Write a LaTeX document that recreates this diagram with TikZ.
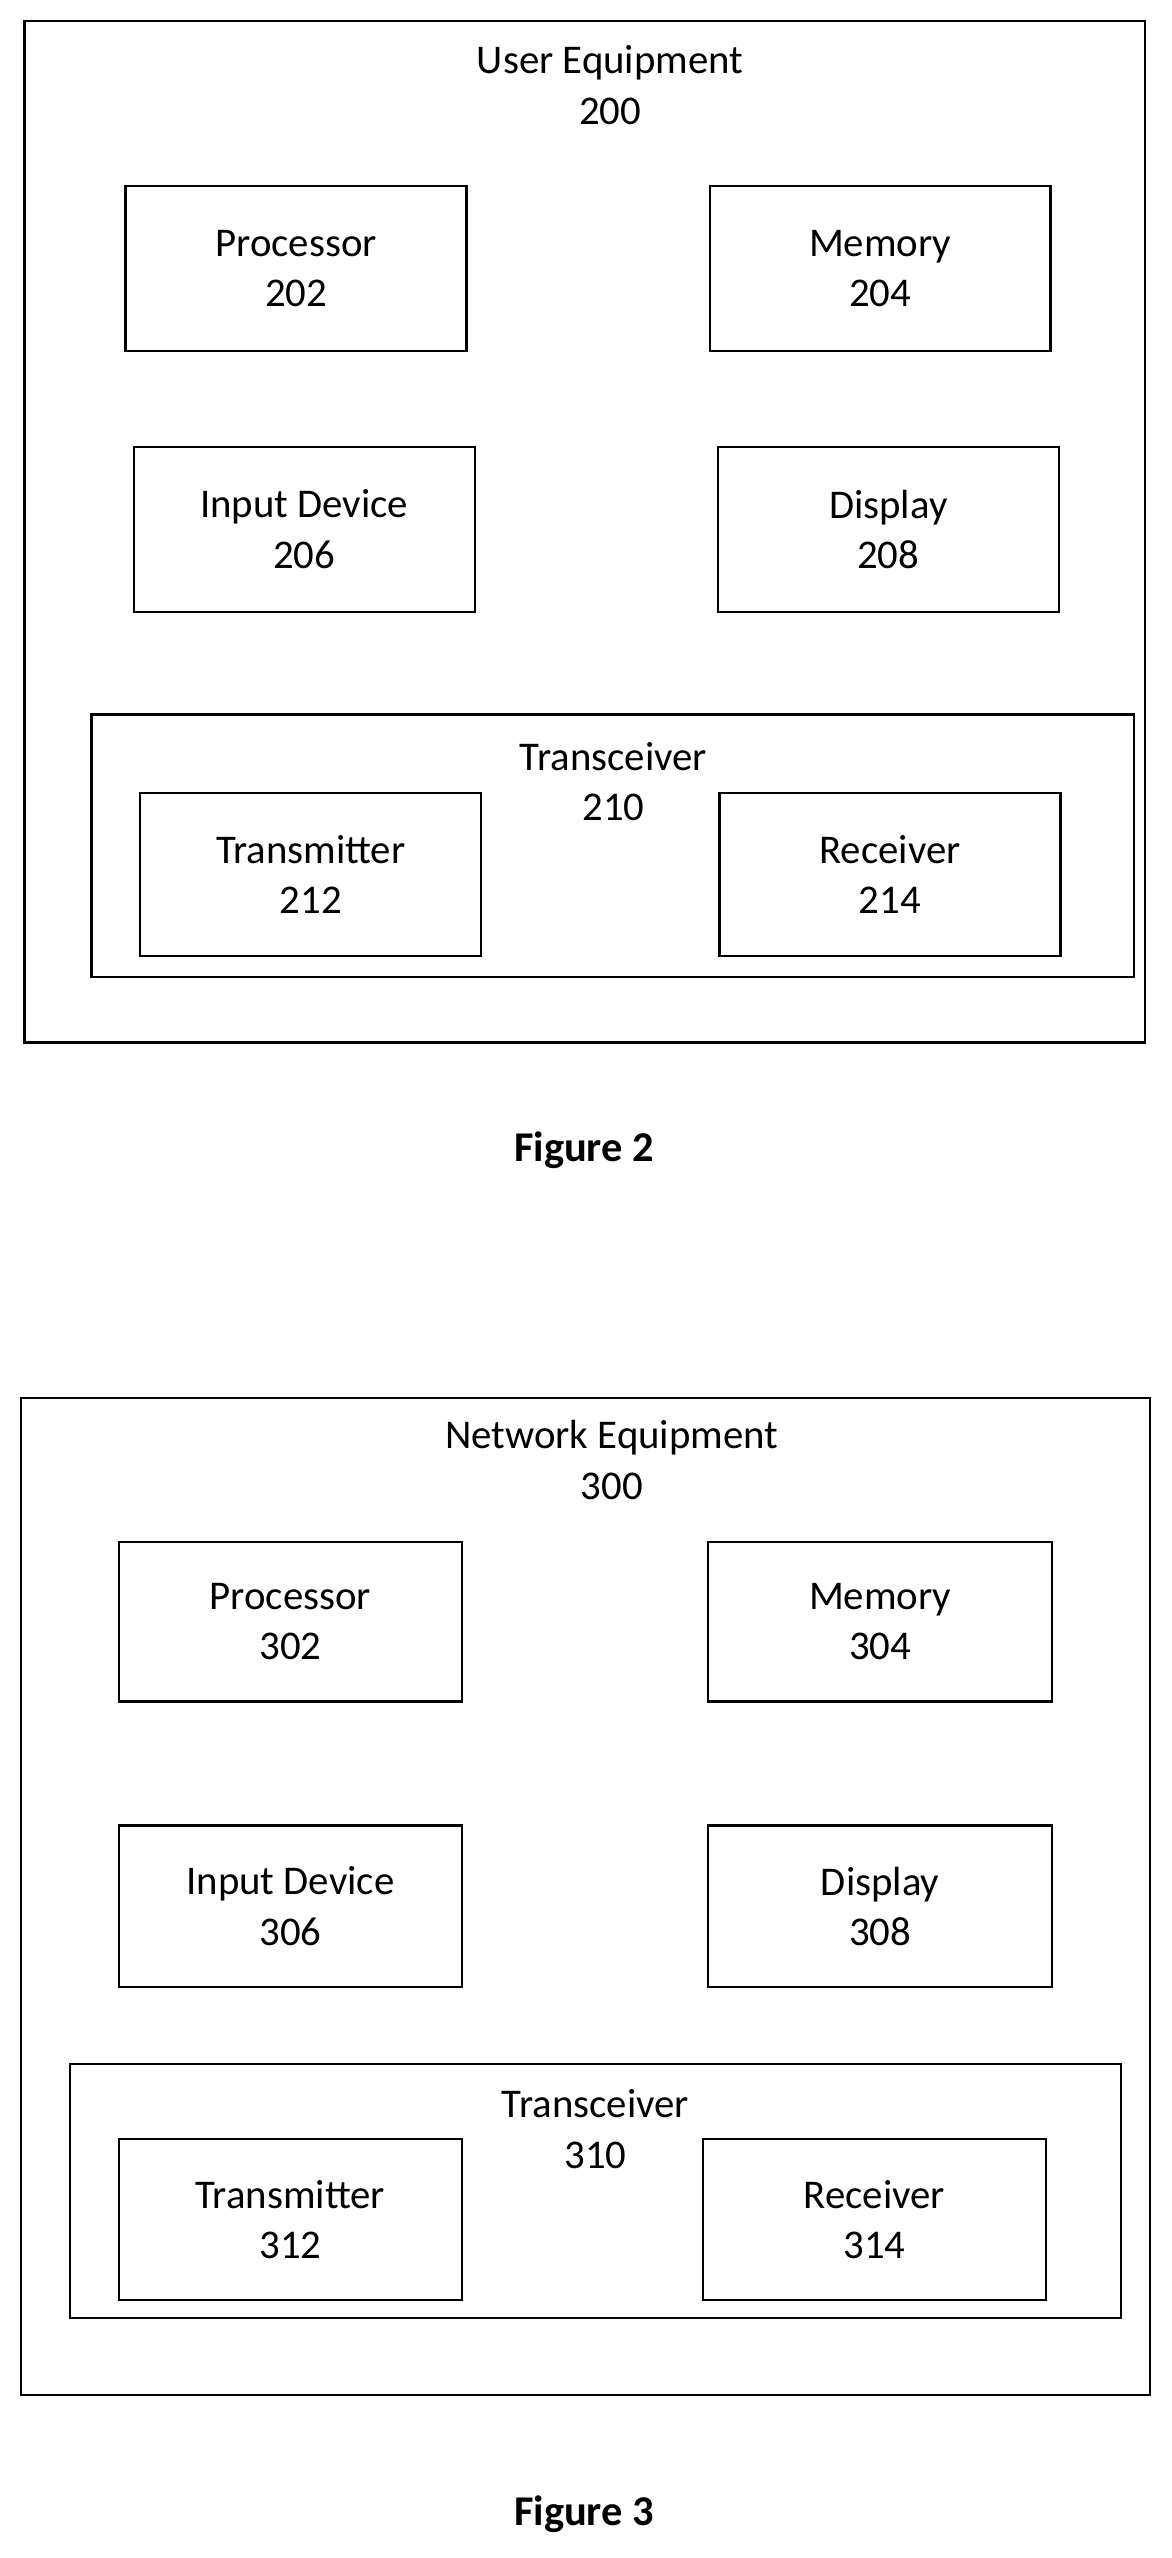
\documentclass[tikz,border=0pt]{standalone}
\usepackage{fontspec}
\setmainfont{Carlito}
\begin{document}
\begin{tikzpicture}[x=0.5pt,y=-0.5pt,
  box/.style={draw,line width=0.7pt,align=center,inner sep=0pt,font=\fontsize{12.5}{15.5}\selectfont},
  lbl/.style={align=center,font=\fontsize{12.5}{15.5}\selectfont},
  figcap/.style={font=\fontsize{13}{16}\selectfont\bfseries}]
\useasboundingbox (0,0) rectangle (718,1568);
\newcommand{\bx}[6]{\node[box,minimum width={(#4-#2)*0.5pt},minimum height={(#5-#3)*0.5pt}] (#1) at ({(#2+#4)/2},{(#3+#5)/2}) {#6};}
% Figure 2
\bx{ue}{15}{13}{702}{639}{}
\node[lbl] (uet) at (374,52) {User Equipment\\200};
\bx{p2}{77}{114}{286}{215}{Processor\\202}
\bx{m2}{435}{114}{644}{215}{Memory\\204}
\bx{i2}{82}{274}{291}{375}{Input Device\\206}
\bx{d2}{440}{274}{649}{375}{Display\\208}
\bx{tr2}{56}{438}{695}{599}{}
\node[lbl] (tr2t) at (376,479) {Transceiver\\210};
\bx{tx2}{86}{486}{295}{586}{Transmitter\\212}
\bx{rx2}{441}{486}{650}{586}{Receiver\\214}
\node[figcap] (f2) at (358,705) {Figure 2};
% Figure 3
\bx{ne}{13}{857}{705}{1468}{}
\node[lbl] (net) at (375,895) {Network Equipment\\300};
\bx{p3}{73}{945}{283}{1043}{Processor\\302}
\bx{m3}{434}{945}{645}{1043}{Memory\\304}
\bx{i3}{73}{1119}{283}{1218}{Input Device\\306}
\bx{d3}{434}{1119}{645}{1218}{Display\\308}
\bx{tr3}{43}{1265}{687}{1421}{}
\node[lbl] (tr3t) at (365,1305) {Transceiver\\310};
\bx{tx3}{73}{1311}{283}{1410}{Transmitter\\312}
\bx{rx3}{431}{1311}{641}{1410}{Receiver\\314}
\node[figcap] (f3) at (358,1541) {Figure 3};
\end{tikzpicture}
\end{document}
